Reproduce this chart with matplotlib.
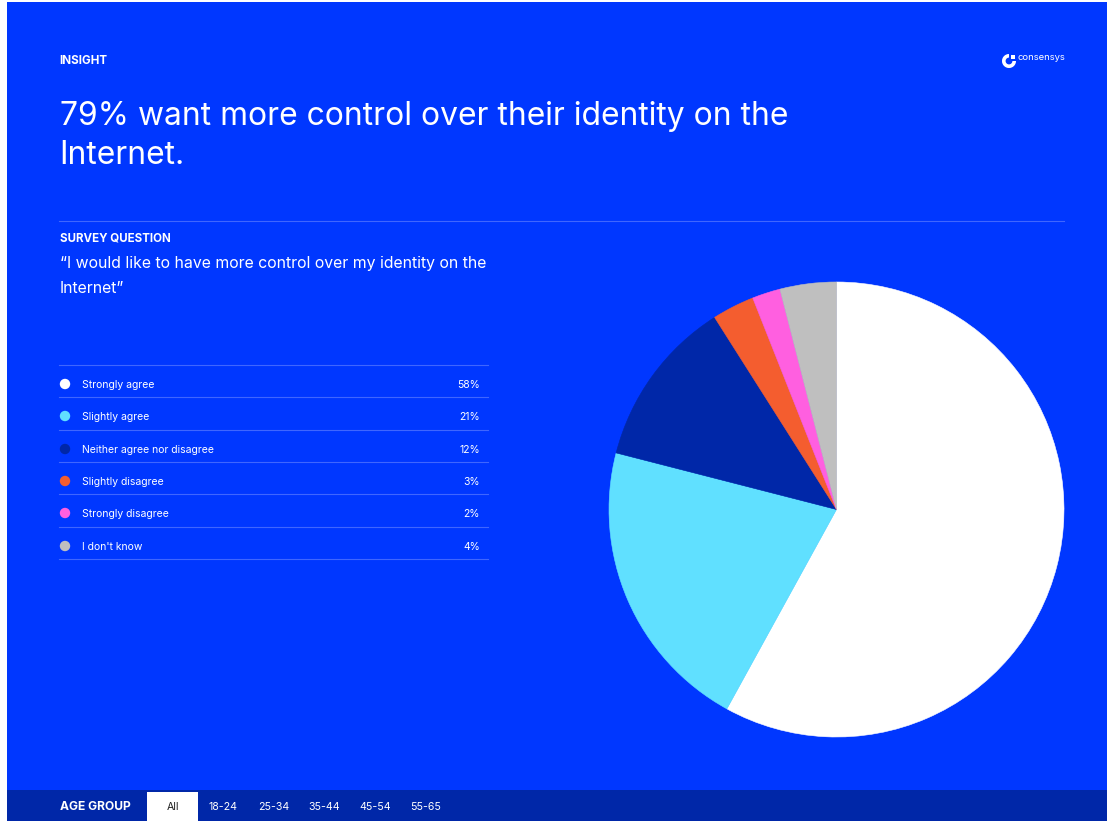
import matplotlib
matplotlib.use("Agg")
import matplotlib.pyplot as plt
from matplotlib.patches import Rectangle, Circle, Wedge

categories = ["Strongly agree", "Slightly agree", "Neither agree nor disagree",
              "Slightly disagree", "Strongly disagree", "I don't know"]
values = [58, 21, 12, 3, 2, 4]
colors = ["#ffffff", "#60e0ff", "#0027a8", "#f45d2f", "#ff5fe0", "#bfbfbf"]
age_groups = ["All", "18-24", "25-34", "35-44", "45-54", "55-65"]
age_x = [172.5, 223, 274, 324, 375, 426]
row_y = [384, 416, 449, 481, 513, 546]
row_lines = [365, 397, 429.5, 462, 494, 527, 559]

BLUE = "#0037ff"
DARK = "#0027a8"
FONT = ["Inter", "DejaVu Sans"]
W, H = 1107, 823

fig = plt.figure(figsize=(W / 100, H / 100), dpi=100, facecolor="white")
bg = fig.add_axes([0, 0, 1, 1])
bg.set_xlim(0, W)
bg.set_ylim(H, 0)
bg.axis("off")

bg.add_patch(Rectangle((7, 2), W - 7, 788, fc=BLUE, ec="none"))
bg.add_patch(Rectangle((7, 790), W - 7, 31, fc=DARK, ec="none"))
bg.add_patch(Rectangle((147, 792), 51, 29, fc="white", ec="none"))


def t(x, y, s, size, weight="normal", color="white", ha="left"):
    bg.text(x, y, s, fontsize=size, fontweight=weight, color=color, ha=ha,
            va="center_baseline", family=FONT)


t(59.5, 112.5, "79% want more control over their identity on the", 22.9)
t(59.5, 151.5, "Internet.", 22.9)
t(59.5, 59, "INSIGHT", 8.4, "bold")
bg.plot([59, 1064], [221, 221], color="#3f66ff", lw=0.8)
t(59.5, 237, "SURVEY QUESTION", 8.3, "bold")
t(59.5, 262, "\u201cI would like to have more control over my identity on the", 11.4)
t(59.5, 287, "Internet\u201d", 11.4)

for y in row_lines:
    bg.plot([59, 488], [y, y], color="#3f66ff", lw=0.8)
for y, name, v, c in zip(row_y, categories, values, colors):
    bg.add_patch(Circle((65, y), 5.2, fc=c, ec="none"))
    t(81.5, y, name, 7.5)
    t(480, y, f"{v}%", 7.5, ha="right")

t(59.5, 806, "AGE GROUP", 8.7, "bold")
for i, (x, a) in enumerate(zip(age_x, age_groups)):
    t(x, 805.5, a, 7.6, color="#222222" if i == 0 else "white", ha="center")

# logo
bg.add_patch(Wedge((1009, 61), 7, 0, 360, width=3.6, fc="white", ec="none"))
bg.add_patch(Rectangle((1009, 54), 7, 7, fc=BLUE, ec="none"))
bg.add_patch(Rectangle((1010.5, 54.5), 4.5, 4.5, fc="white", ec="none"))
t(1018, 56.5, "consensys", 6.8)

# pie: centre (836.5, 509.5), radius 227.5 px
cx, cy, r = 836.5, 509.5, 227.5
ax = fig.add_axes([(cx - r) / W, 1 - (cy + r) / H, 2 * r / W, 2 * r / H])
wedges, _ = ax.pie(values, colors=colors, startangle=90, counterclock=False, radius=1,
                   wedgeprops=dict(linewidth=0.4))
for w, c in zip(wedges, colors):
    w.set_edgecolor(c)
ax.set_xlim(-1, 1)
ax.set_ylim(-1, 1)

fig.savefig("out.png", dpi=100, facecolor="white")
